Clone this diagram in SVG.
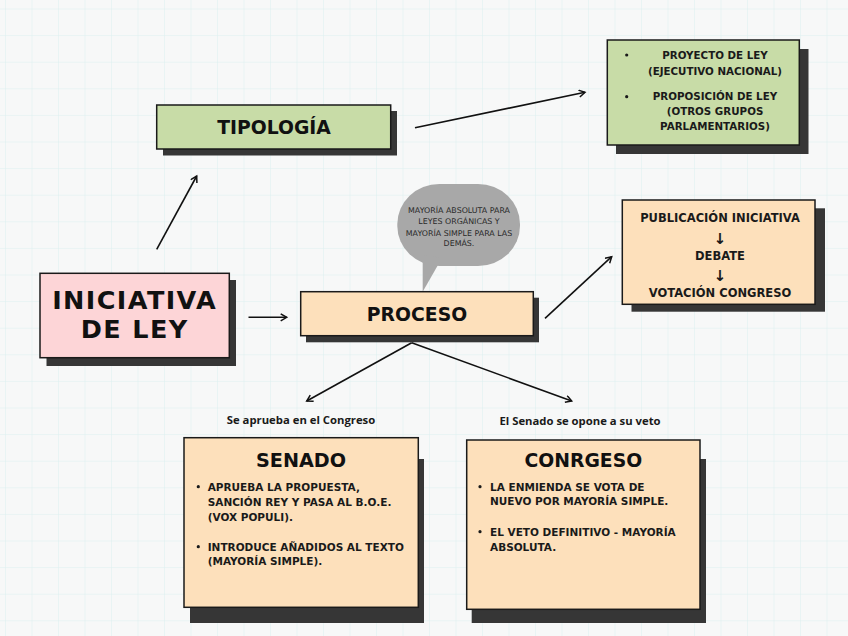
<svg xmlns="http://www.w3.org/2000/svg" width="848" height="636" viewBox="0 0 848 636">
  <defs>
    <pattern id="grid" x="5" y="8.5" width="26.5" height="26.6" patternUnits="userSpaceOnUse">
      <path d="M0,0 H26.5 M0,0 V26.6" fill="none" stroke="#dcefef" stroke-width="1"/>
    </pattern>
    <marker id="arr" markerUnits="userSpaceOnUse" markerWidth="12" markerHeight="12" refX="7" refY="4" orient="auto">
      <path d="M1,0.5 L7,4 L1,7.5" fill="none" stroke="#111" stroke-width="1.5" stroke-linejoin="miter"/>
    </marker>
    <style>
      .box { stroke: #1a1a1a; stroke-width: 1.5; }
      .shadow { fill: #363636; }
      .pink { fill: #fdd5d7; }
      .green { fill: #c8dca7; }
      .peach { fill: #fde0bb; }
      .conn { stroke: #111; stroke-width: 1.6; fill: none; marker-end: url(#arr); }
      .h { font-family: "DejaVu Sans", "Liberation Sans", sans-serif; font-weight: bold; fill: #111; text-anchor: middle; }
      .b { font-family: "DejaVu Sans", "Liberation Sans", sans-serif; font-weight: bold; fill: #1a1a1a; }
      .c { text-anchor: middle; }
      .lbl { font-family: "Open Sans", "Liberation Sans", sans-serif; font-weight: bold; font-size: 11.3px; fill: #1a1a1a; text-anchor: middle; }
      .bub { font-family: "DejaVu Sans", "Liberation Sans", sans-serif; font-size: 7.9px; fill: #2a2a2a; text-anchor: middle; }
      .dot { fill: #1a1a1a; }
    </style>
  </defs>

  <rect width="848" height="636" fill="#f7f8f8"/>
  <rect width="848" height="636" fill="url(#grid)"/>

  <g id="connectors">
    <line class="conn" x1="156.7" y1="249.3" x2="196.7" y2="176"/>
    <line class="conn" x1="248.5" y1="317.3" x2="286.7" y2="317.3"/>
    <line class="conn" x1="415" y1="127.7" x2="585" y2="92.3"/>
    <line class="conn" x1="545" y1="318.3" x2="611.7" y2="256.7"/>
    <line class="conn" x1="411.7" y1="342.7" x2="306.7" y2="401"/>
    <line class="conn" x1="411.7" y1="342.7" x2="571.7" y2="401"/>
  </g>

  <g id="iniciativa">
    <rect class="shadow" x="46.5" y="280" width="189.5" height="86"/>
    <rect class="box pink" x="40" y="273.3" width="189.3" height="84.4"/>
    <text class="h" x="134.7" y="308.6" font-size="25.5" letter-spacing="1.4">INICIATIVA</text>
    <text class="h" x="134.7" y="338.3" font-size="25.5" letter-spacing="1.4">DE LEY</text>
  </g>

  <g id="tipologia">
    <rect class="shadow" x="163" y="111" width="234" height="44.5"/>
    <rect class="box green" x="156.7" y="105" width="234" height="44"/>
    <text class="h" x="274" y="134" font-size="18.8">TIPOLOGÍA</text>
  </g>

  <g id="tipos">
    <rect class="shadow" x="616" y="49" width="192.5" height="105"/>
    <rect class="box green" x="607.3" y="40" width="192" height="105"/>
    <circle class="dot" cx="626.7" cy="55" r="1.6"/>
    <circle class="dot" cx="626.7" cy="96.7" r="1.6"/>
    <text class="b c" font-size="10.3" x="715" y="58.7">PROYECTO DE LEY</text>
    <text class="b c" font-size="10.3" x="715" y="74.7">(EJECUTIVO NACIONAL)</text>
    <text class="b c" font-size="10.3" x="715" y="100.4">PROPOSICIÓN DE LEY</text>
    <text class="b c" font-size="10.3" x="715" y="115.4">(OTROS GRUPOS</text>
    <text class="b c" font-size="10.3" x="715" y="130.4">PARLAMENTARIOS)</text>
  </g>

  <g id="nota">
    <rect x="397.3" y="184" width="122.7" height="82" rx="42" ry="40" fill="#a8a8a8"/>
    <path d="M422.7,255 L422.7,291.7 L442,258 Z" fill="#a8a8a8"/>
    <text class="bub" x="459" y="212.8">MAYORÍA ABSOLUTA PARA</text>
    <text class="bub" x="459" y="224.3">LEYES ORGÁNICAS Y</text>
    <text class="bub" x="459" y="235.5">MAYORÍA SIMPLE PARA LAS</text>
    <text class="bub" x="459" y="246">DEMÁS.</text>
  </g>

  <g id="proceso">
    <rect class="shadow" x="306" y="297.7" width="233" height="44.6"/>
    <rect class="box peach" x="300.7" y="291.7" width="232.6" height="44"/>
    <text class="h" x="417" y="321" font-size="18.8">PROCESO</text>
  </g>

  <g id="publicacion">
    <rect class="shadow" x="631.5" y="208.3" width="193.5" height="103.4"/>
    <rect class="box peach" x="622.3" y="200" width="192.7" height="104.3"/>
    <text class="b c" font-size="11.5" x="720" y="221.8">PUBLICACIÓN INICIATIVA</text>
    <text class="b c" font-size="15" x="720" y="244">↓</text>
    <text class="b c" font-size="11.5" x="720" y="260.2">DEBATE</text>
    <text class="b c" font-size="15" x="720" y="281">↓</text>
    <text class="b c" font-size="11.5" x="720" y="297.2">VOTACIÓN CONGRESO</text>
  </g>

  <g id="label-senado">
    <text class="lbl" x="301" y="424">Se aprueba en el Congreso</text>
  </g>
  <g id="label-congreso">
    <text class="lbl" x="580" y="425">El Senado se opone a su veto</text>
  </g>

  <g id="senado">
    <rect class="shadow" x="190" y="459" width="234" height="164"/>
    <rect class="box peach" x="184" y="437.7" width="234.3" height="169.6"/>
    <text class="h" x="301" y="467" font-size="19.2">SENADO</text>
    <circle class="dot" cx="198.3" cy="486.7" r="1.6"/>
    <circle class="dot" cx="198.3" cy="546.7" r="1.6"/>
    <text class="b" font-size="10.5" x="207.7" y="490.7">APRUEBA LA PROPUESTA,</text>
    <text class="b" font-size="10.5" x="207.7" y="505.7">SANCIÓN REY Y PASA AL B.O.E.</text>
    <text class="b" font-size="10.5" x="207.7" y="520.7">(VOX POPULI).</text>
    <text class="b" font-size="10.5" x="207.7" y="550.7">INTRODUCE AÑADIDOS AL TEXTO</text>
    <text class="b" font-size="10.5" x="207.7" y="565">(MAYORÍA SIMPLE).</text>
  </g>

  <g id="congreso">
    <rect class="shadow" x="471.7" y="459" width="234.3" height="164"/>
    <rect class="box peach" x="466.7" y="440" width="233.3" height="169.3"/>
    <text class="h" x="583.3" y="467" font-size="18.8">CONRGESO</text>
    <circle class="dot" cx="480" cy="486.7" r="1.6"/>
    <circle class="dot" cx="480" cy="531.7" r="1.6"/>
    <text class="b" font-size="10.5" x="490" y="490.7">LA ENMIENDA SE VOTA DE</text>
    <text class="b" font-size="10.5" x="490" y="505">NUEVO POR MAYORÍA SIMPLE.</text>
    <text class="b" font-size="10.5" x="490" y="535.7">EL VETO DEFINITIVO - MAYORÍA</text>
    <text class="b" font-size="10.5" x="490" y="550.7">ABSOLUTA.</text>
  </g>
</svg>
